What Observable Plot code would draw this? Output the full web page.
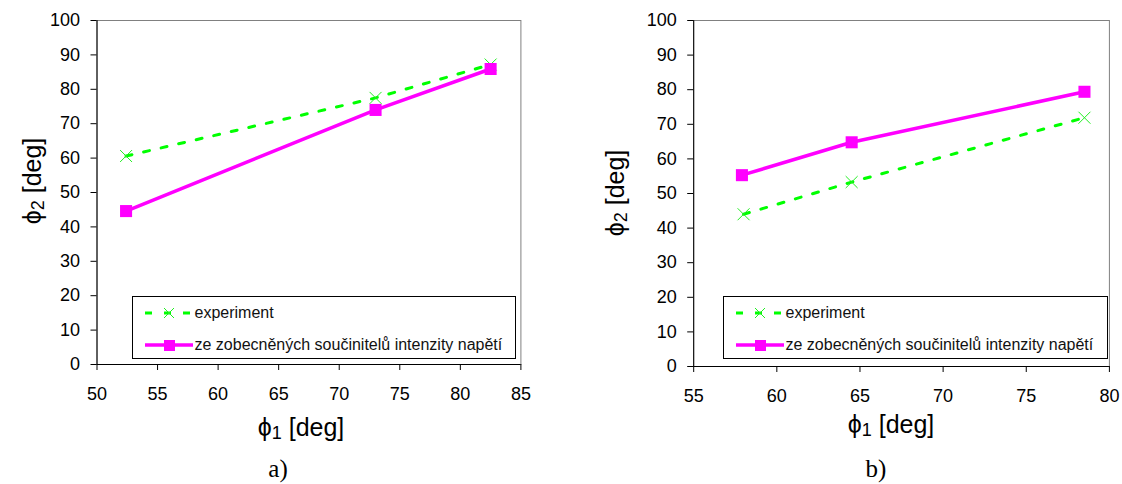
<!DOCTYPE html>
<html><head><meta charset="utf-8">
<script src="https://cdn.jsdelivr.net/npm/d3@7"></script>
<script src="https://cdn.jsdelivr.net/npm/@observablehq/plot@0.6"></script>
<style>
body{margin:0;background:#fff;}
#wrap{position:relative;width:1122px;height:484px;overflow:hidden;font-family:"Liberation Sans",Arial,sans-serif;background:#fff;}
.panel{position:absolute;top:0;}
.lbl{position:absolute;font-family:"Liberation Sans",Arial,sans-serif;font-size:25px;line-height:1;white-space:nowrap;color:#000;}
.lbl sub{font-size:0.72em;vertical-align:-0.22em;line-height:0;}
.cap{position:absolute;font-family:"Liberation Serif","Times New Roman",serif;font-size:25px;line-height:1;white-space:nowrap;color:#000;}
.legend{position:absolute;border:1px solid #000;background:#fff;box-sizing:border-box;font-family:"Liberation Sans",Arial,sans-serif;font-size:16px;color:#111;}
.legend .row{position:absolute;left:0;height:20px;white-space:nowrap;}
.legend .row svg{position:absolute;left:0;top:0;}
.legend .row span{position:absolute;left:62px;top:1px;line-height:18px;}
</style></head><body><div id="wrap"></div>
<script>
// ---- data ----
const seriesNames = ["experiment", "ze zobecněných součinitelů intenzity napětí"];
const yTicks = [0, 10, 20, 30, 40, 50, 60, 70, 80, 90, 100];
// panel a)
const aXTicks = [50, 55, 60, 65, 70, 75, 80, 85];
const aPhi1 = [52.4, 73.0, 82.5];
const aExperiment = [60.6, 77.5, 87.2];
const aTheory = [44.6, 74.0, 85.9];
// panel b)
const bXTicks = [55, 60, 65, 70, 75, 80];
const bPhi1Exp = [58.0, 64.5, 78.5];
const bExperiment = [44.0, 53.3, 71.9];
const bPhi1Theory = [57.9, 64.5, 78.5];
const bTheory = [55.3, 64.8, 79.4];

const GREEN = "#00ff00", MAGENTA = "#ff00ff";
const wrap = document.getElementById("wrap");

function panel(o) {
  const exp = o.xe.map((x, i) => ({x, y: o.ye[i]}));
  const th = o.xt.map((x, i) => ({x, y: o.yt[i]}));
  const svg = Plot.plot({
    width: o.width, height: o.height,
    marginLeft: o.ml, marginRight: o.mr, marginTop: o.mt, marginBottom: o.mb,
    style: {fontFamily: '"Liberation Sans", Arial, sans-serif', fontSize: "18px", color: "#000", background: "#fff", overflow: "visible"},
    x: {domain: o.xDomain},
    y: {domain: [0, 100]},
    marks: [
      Plot.frame({stroke: "#808080"}),
      Plot.ruleX([o.xDomain[0]], {stroke: "#000"}),
      Plot.ruleY([0], {stroke: "#000"}),
      Plot.axisY({ticks: yTicks, tickSize: 6, tickPadding: 11, label: null, fontSize: 18}),
      Plot.axisX({ticks: o.xTicks, tickSize: 6, tickPadding: 17, label: null, fontSize: 18}),
      Plot.line(exp, {x: "x", y: "y", stroke: GREEN, strokeWidth: 3, strokeDasharray: "6,12"}),
      Plot.dot(exp, {x: "x", y: "y", symbol: "times", r: 5.5, stroke: "#22ee22", strokeWidth: 1}),
      Plot.line(th, {x: "x", y: "y", stroke: MAGENTA, strokeWidth: 3.5}),
      Plot.dot(th, {x: "x", y: "y", symbol: "square", r: 6.8, fill: MAGENTA, stroke: "none"})
    ]
  });
  svg.classList.add("panel");
  svg.style.left = o.left + "px";
  wrap.appendChild(svg);

  const lg = document.createElement("div");
  lg.className = "legend";
  Object.assign(lg.style, {left: o.lg[0] + "px", top: o.lg[1] + "px", width: o.lg[2] + "px", height: o.lg[3] + "px"});
  lg.innerHTML = `
    <div class="row" style="top:${o.rowY[0]}px">
      <svg width="62" height="20"><line x1="12" x2="60" y1="10" y2="10" stroke="${GREEN}" stroke-width="3" stroke-dasharray="7,12"/>
      <path d="M31,5L41,15M41,5L31,15" stroke="#22ee22" stroke-width="1"/></svg>
      <span>${seriesNames[0]}</span></div>
    <div class="row" style="top:${o.rowY[1]}px">
      <svg width="62" height="20"><line x1="12" x2="60" y1="10" y2="10" stroke="${MAGENTA}" stroke-width="3.5"/>
      <rect x="31" y="5" width="11" height="11" fill="${MAGENTA}"/></svg>
      <span>${seriesNames[1]}</span></div>`;
  wrap.appendChild(lg);

  const xl = document.createElement("div");
  xl.className = "lbl";
  xl.innerHTML = "ϕ<sub>1</sub> [deg]";
  Object.assign(xl.style, {left: o.xl[0] + "px", top: o.xl[1] + "px", transform: "translate(-50%,-50%)"});
  wrap.appendChild(xl);

  const yl = document.createElement("div");
  yl.className = "lbl";
  yl.innerHTML = "ϕ<sub>2</sub> [deg]";
  Object.assign(yl.style, {left: o.yl[0] + "px", top: o.yl[1] + "px", transform: "translate(-50%,-50%) rotate(-90deg)"});
  wrap.appendChild(yl);

  const cp = document.createElement("div");
  cp.className = "cap";
  cp.textContent = o.cap;
  Object.assign(cp.style, {left: o.capPos[0] + "px", top: o.capPos[1] + "px", transform: "translate(-50%,-50%)"});
  wrap.appendChild(cp);
}

panel({
  left: 0, width: 560, height: 410, ml: 96.5, mr: 39.6, mt: 20, mb: 46,
  xDomain: [50, 85], xTicks: aXTicks,
  xe: aPhi1, ye: aExperiment, xt: aPhi1, yt: aTheory,
  lg: [131.5, 296, 384, 63], rowY: [6, 38],
  xl: [301, 427], yl: [32, 181], cap: "a)", capPos: [278, 468]
});
panel({
  left: 560, width: 562, height: 410, ml: 133.2, mr: 13.1, mt: 20, mb: 44,
  xDomain: [55, 80], xTicks: bXTicks,
  xe: bPhi1Exp, ye: bExperiment, xt: bPhi1Theory, yt: bTheory,
  lg: [722.5, 296, 385, 63], rowY: [6, 38],
  xl: [891, 424], yl: [615, 193], cap: "b)", capPos: [876, 468]
});
</script>
</body></html>
